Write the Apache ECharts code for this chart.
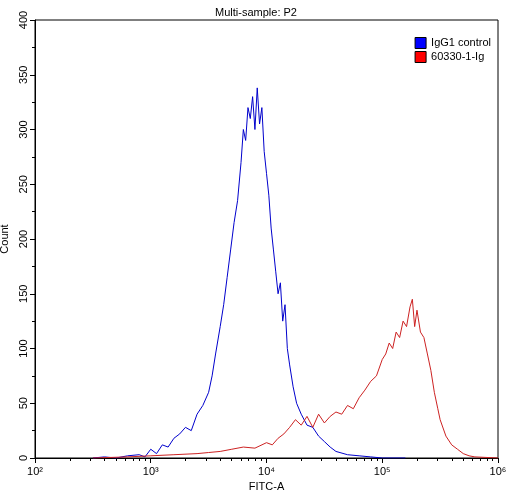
<!DOCTYPE html><html><head><meta charset="utf-8">
<script src="https://cdn.jsdelivr.net/npm/echarts@6/dist/echarts.min.js"></script>
<style>html,body{margin:0;background:#fff}#c{width:512px;height:492px}</style></head><body><div id="c"></div>
<script>
const xTicks=[100,1000,10000,100000,1000000];
const yTicks=[0,50,100,150,200,250,300,350,400];
const blueExp=[2.5,2.6,2.7,2.8,2.9,2.95,3.0,3.05,3.1,3.15,3.2,3.25,3.3,3.35,3.4,3.45,3.5,3.53,3.56,3.6,3.63,3.66,3.69,3.72,3.75,3.78,3.8,3.82,3.84,3.86,3.88,3.9,3.92,3.94,3.96,3.98,4.0,4.02,4.04,4.06,4.08,4.1,4.12,4.14,4.16,4.18,4.2,4.23,4.26,4.3,4.35,4.4,4.45,4.5,4.55,4.6,4.7,4.8,4.9,5.0,5.2];
const blueCnt=[0,1,0,2,3,1,8,4,12,10,18,22,28,25,40,48,60,75,95,120,140,165,190,215,235,270,300,290,320,310,330,300,338,305,320,280,260,240,210,190,170,150,160,125,140,100,85,65,50,40,30,28,20,15,10,6,3,2,1,0,0];
const redExp=[2.5,2.8,3.0,3.2,3.4,3.5,3.6,3.7,3.8,3.9,4.0,4.05,4.1,4.15,4.2,4.25,4.3,4.35,4.4,4.45,4.5,4.55,4.6,4.65,4.7,4.75,4.8,4.85,4.9,4.95,5.0,5.03,5.06,5.09,5.12,5.15,5.18,5.21,5.24,5.26,5.28,5.3,5.33,5.36,5.39,5.42,5.45,5.48,5.5,5.55,5.6,5.65,5.7,5.75,5.8,6.0];
const redCnt=[0,1,2,3,4,5,6,8,10,9,14,12,18,22,28,35,30,38,28,40,32,38,42,40,48,45,55,62,70,75,90,95,105,100,115,110,125,120,138,145,120,135,115,110,95,80,60,45,35,20,12,8,4,2,1,0];
const pts=(e,c)=>e.map((v,i)=>[Math.pow(10,v),c[i]]);
const sup={'2':'²','3':'³','4':'⁴','5':'⁵','6':'⁶'};
const chart=echarts.init(document.getElementById('c'));
chart.setOption({
 animation:false,
 title:{text:'Multi-sample: P2',left:'center',top:2,textStyle:{fontSize:11,fontWeight:'normal',color:'#000',fontFamily:'Liberation Sans'}},
 legend:{right:16,top:32,orient:'vertical',itemWidth:11,itemHeight:11,itemGap:2,icon:'rect',textStyle:{fontSize:11,color:'#000',fontFamily:'Liberation Sans'},
  data:[{name:'IgG1 control',itemStyle:{color:'#0000ff',borderColor:'#000',borderWidth:1}},{name:'60330-1-Ig',itemStyle:{color:'#ff0000',borderColor:'#000',borderWidth:1}}]},
 grid:{left:35,right:14,top:20,bottom:34,containLabel:false,outerBoundsMode:'none',show:true,borderColor:'#000',borderWidth:1},
 xAxis:{type:'log',logBase:10,min:100,max:1000000,name:'FITC-A',nameLocation:'middle',nameGap:20,nameTextStyle:{fontSize:11,color:'#000',fontFamily:'Liberation Sans'},
  axisLine:{lineStyle:{color:'#000'}},axisTick:{inside:false,length:5,lineStyle:{color:'#000'}},
  minorTick:{show:true,splitNumber:9,length:3,lineStyle:{color:'#000'}},splitLine:{show:false},
  axisLabel:{fontSize:11,color:'#000',fontFamily:'Liberation Sans',formatter:v=>{const e=Math.round(Math.log10(v));return '10'+sup[e];}}},
 yAxis:{type:'value',min:0,max:400,interval:50,name:'Count',nameLocation:'middle',nameGap:22,nameTextStyle:{fontSize:11,color:'#000',fontFamily:'Liberation Sans'},
  axisLine:{show:true,lineStyle:{color:'#000'}},axisTick:{length:5,lineStyle:{color:'#000'}},
  minorTick:{show:true,splitNumber:2,length:3,lineStyle:{color:'#000'}},splitLine:{show:false},
  axisLabel:{fontSize:11,color:'#000',rotate:90,margin:6,fontFamily:'Liberation Sans'}},
 series:[
  {name:'IgG1 control',type:'line',data:pts(blueExp,blueCnt),showSymbol:false,lineStyle:{color:'#0000cc',width:1},itemStyle:{color:'#0000ff'}},
  {name:'60330-1-Ig',type:'line',data:pts(redExp,redCnt),showSymbol:false,lineStyle:{color:'#cc2222',width:1},itemStyle:{color:'#ff0000'}}
 ]
});
</script></body></html>
